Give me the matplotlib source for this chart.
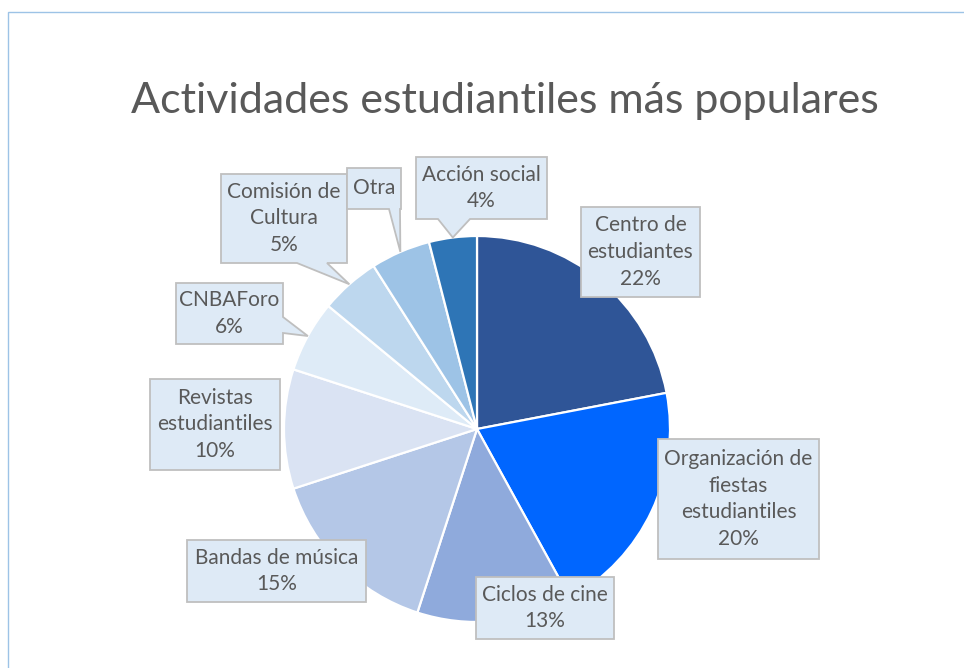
import matplotlib
matplotlib.use("Agg")
import matplotlib.pyplot as plt
from matplotlib.patches import Polygon, Rectangle
import numpy as np

plt.rcParams['font.family'] = ['Lato', 'DejaVu Sans']

# ---- data ----
categories = ["Centro de\nestudiantes", "Organización de\nfiestas\nestudiantiles",
              "Ciclos de cine", "Bandas de música", "Revistas\nestudiantiles",
              "CNBAForo", "Comisión de\nCultura", "Otra", "Acción social"]
values = [22, 20, 13, 15, 10, 6, 5, 5, 4]
show_pct = [True, True, True, True, True, True, True, False, True]
colors = ["#2F5597", "#0066FF", "#8FAADC", "#B4C7E7", "#DAE3F3",
          "#DEEBF7", "#BDD7EE", "#9DC3E6", "#2E75B6"]
title = "Actividades estudiantiles más populares"

# ---- layout (pixels, top-left origin) ----
W, H = 964, 668
cx, cy, R = 477, 429, 193
# box: (x0, y0, x1, y1, tail) ; tail=None or (edge, base0, base1)
boxes = [
    (581, 207, 700, 297, None),
    (658, 439, 819, 559, None),
    (476, 577, 614, 639, None),
    (187, 540, 366, 602, None),
    (150, 379, 280, 470, None),
    (176, 283, 283, 344, ("right", 317, 333)),
    (221, 174, 347, 263, ("bottom", 297, 327)),
    (347, 168, 401, 209, ("bottom", 389, 400)),
    (416, 157, 547, 219, ("bottom", 438, 470)),
]

fig = plt.figure(figsize=(W / 100, H / 100), dpi=100)
ax = fig.add_axes([0, 0, 1, 1])

def Y(py):
    return H - py

wedges, _ = ax.pie(values, colors=colors, startangle=90, counterclock=False,
                   center=(cx, Y(cy)), radius=R,
                   wedgeprops=dict(edgecolor="white", linewidth=1.6))
ax.set_xlim(0, W)
ax.set_ylim(0, H)
ax.set_aspect('equal')
ax.axis('off')

# outer frame
fig.patches.append(Rectangle((8 / W, -0.1), 1.2, (H - 12) / H + 0.1,
                             transform=fig.transFigure, fill=False,
                             edgecolor="#9DC3E6", linewidth=1.0))

fig.text(505 / W, 1 - 101 / H, title, ha="center", va="center",
         fontsize=31, color="#595959")

for w, cat, v, sp, (x0, y0, x1, y1, tail) in zip(wedges, categories, values,
                                                  show_pct, boxes):
    mid = np.deg2rad((w.theta1 + w.theta2) / 2)
    tx = cx + R * np.cos(mid)
    ty = Y(cy) + R * np.sin(mid)
    X0, X1, YT, YB = x0, x1, Y(y0), Y(y1)
    if tail is None:
        pts = [(X0, YT), (X1, YT), (X1, YB), (X0, YB)]
    elif tail[0] == "bottom":
        b0, b1 = tail[1], tail[2]
        pts = [(X0, YT), (X1, YT), (X1, YB), (b1, YB), (tx, ty), (b0, YB), (X0, YB)]
    elif tail[0] == "right":
        b0, b1 = Y(tail[1]), Y(tail[2])
        pts = [(X0, YT), (X1, YT), (X1, b0), (tx, ty), (X1, b1), (X1, YB), (X0, YB)]
    ax.add_patch(Polygon(pts, closed=True, facecolor="#DEEAF6",
                         edgecolor="#BFBFBF", linewidth=1.3, zorder=5))
    label = cat + (f"\n{v}%" if sp else "")
    ax.text((X0 + X1) / 2, (YT + YB) / 2, label, ha="center", va="center",
            fontsize=15, color="#595959", linespacing=1.42, zorder=6)

fig.savefig("out.png", dpi=100, facecolor="white")
